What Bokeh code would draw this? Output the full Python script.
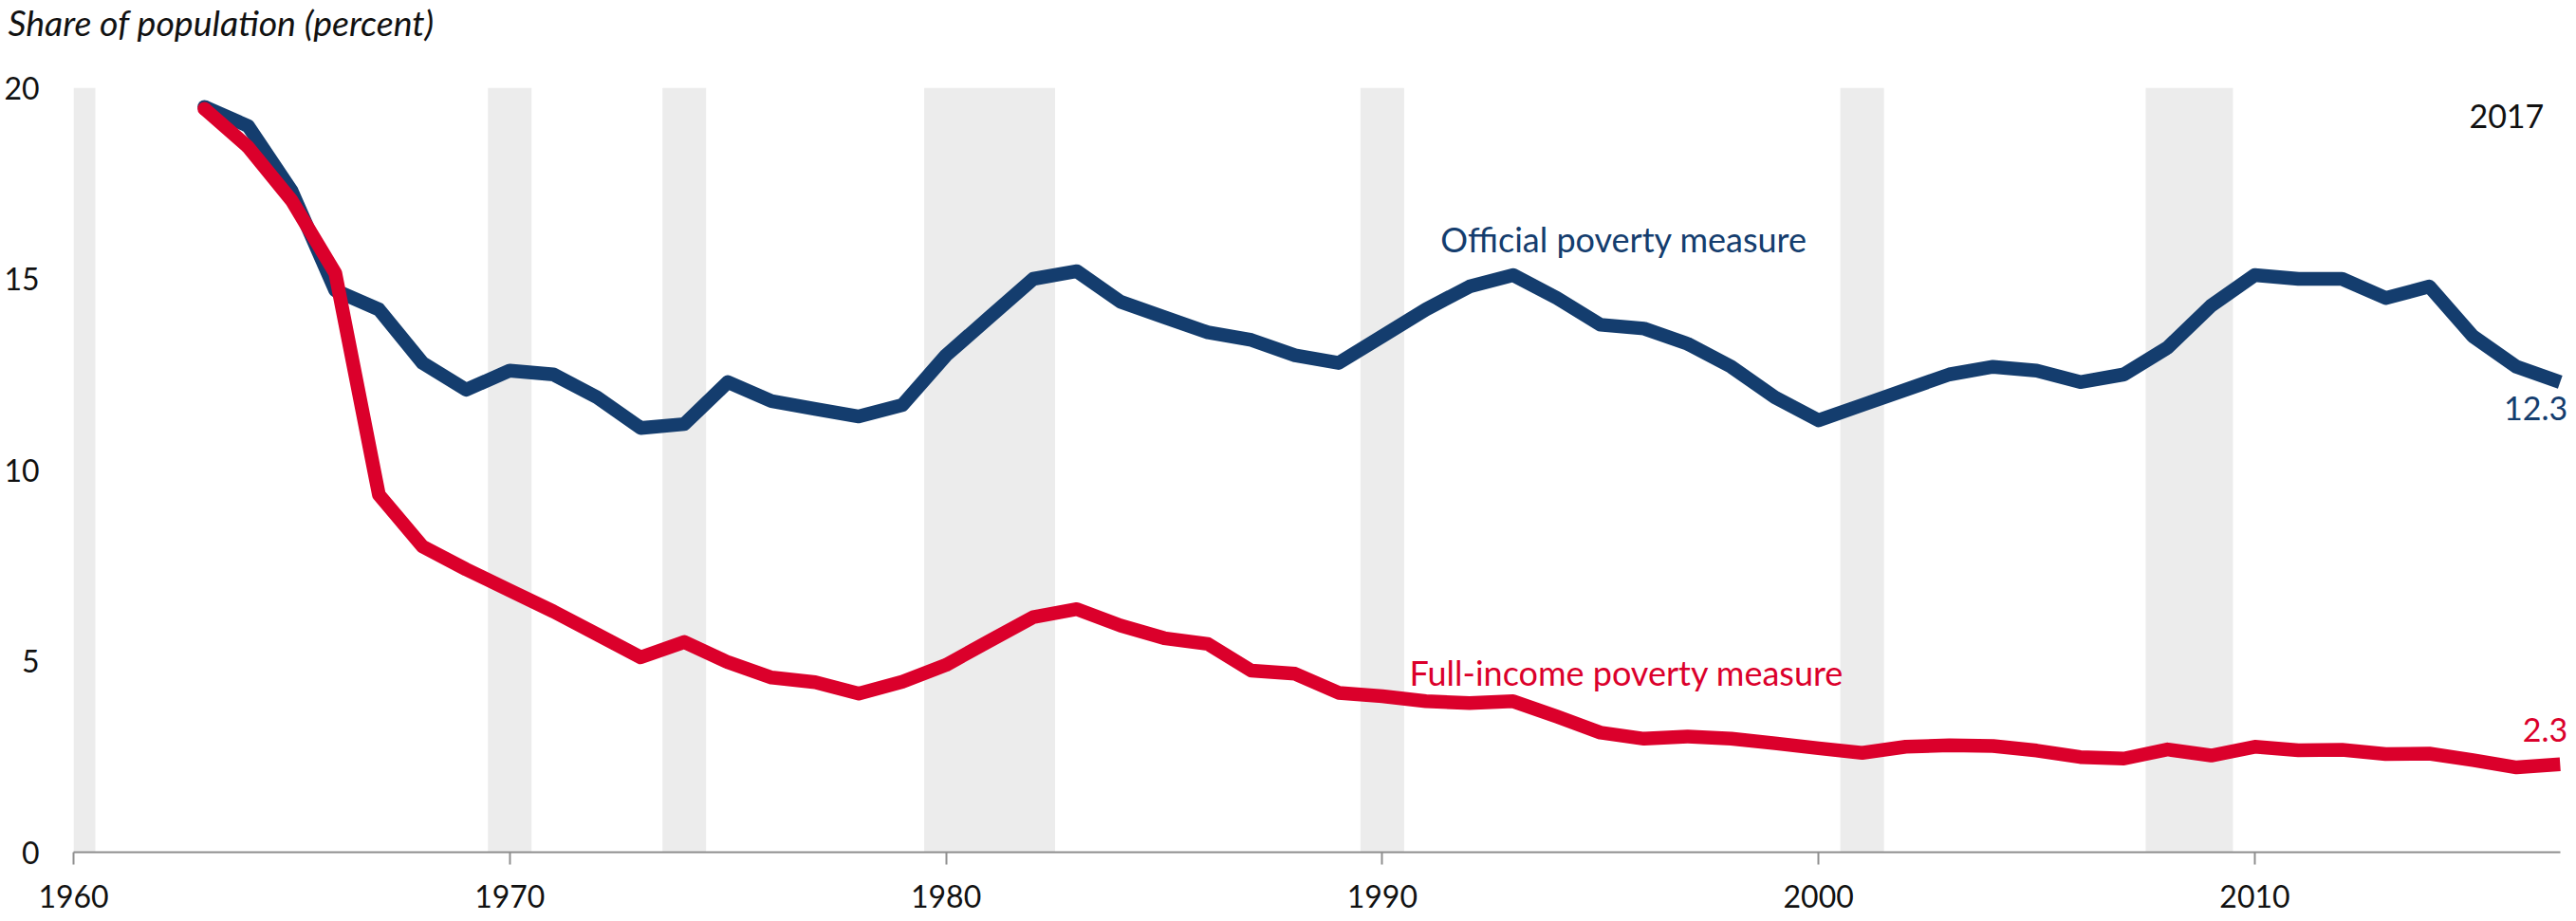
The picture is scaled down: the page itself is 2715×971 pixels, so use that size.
from bokeh.plotting import figure
from bokeh.models import Range1d, Label, FixedTicker
from bokeh.embed import file_html
from bokeh.resources import INLINE

# ---------------- data ----------------
years = list(range(1963, 2018))
official = [19.5, 19.0, 17.3, 14.7, 14.2, 12.8, 12.1, 12.6, 12.5, 11.9,
            11.1, 11.2, 12.3, 11.8, 11.6, 11.4, 11.7, 13.0, 14.0, 15.0,
            15.2, 14.4, 14.0, 13.6, 13.4, 13.0, 12.8, 13.5, 14.2, 14.8,
            15.1, 14.5, 13.8, 13.7, 13.3, 12.7, 11.9, 11.3, 11.7, 12.1,
            12.5, 12.7, 12.6, 12.3, 12.5, 13.2, 14.3, 15.1, 15.0, 15.0,
            14.5, 14.8, 13.5, 12.7, 12.3]
full_income = [19.45, 18.45, 17.05, 15.15, 9.35, 8.0, 7.4, 6.85, 6.3, 5.7,
               5.1, 5.5, 4.97, 4.57, 4.45, 4.15, 4.46, 4.9, 5.53, 6.15,
               6.36, 5.93, 5.6, 5.45, 4.75, 4.67, 4.17, 4.08, 3.95, 3.9,
               3.95, 3.55, 3.13, 2.97, 3.03, 2.97, 2.85, 2.72, 2.6, 2.76,
               2.8, 2.78, 2.66, 2.49, 2.45, 2.69, 2.53, 2.76, 2.67, 2.68,
               2.57, 2.58, 2.41, 2.22, 2.3]
recession_start = [1960, 1969.5, 1973.5, 1979.5, 1989.5, 2000.5, 2007.5]
recession_end = [1960.5, 1970.5, 1974.5, 1982.5, 1990.5, 2001.5, 2009.5]
x_ticks = [1960, 1970, 1980, 1990, 2000, 2010]
y_ticks = [0, 5, 10, 15, 20]
x_start, x_end = 1960, 2017

title_text = "Share of population (percent)"
official_name = "Official poverty measure"
full_name = "Full-income poverty measure"
end_year_text = "2017"

BLUE = "#143D6E"
RED = "#DB002B"
FONT = "Lato"
LW = 14.5
right_pad = 0.2   # room to the right of the last year for the end labels

p = figure(width=2707, height=963, output_backend="svg", toolbar_location=None,
           x_range=Range1d(x_start, x_end + right_pad),
           y_range=Range1d(y_ticks[0], y_ticks[-1]),
           min_border_left=77, min_border_right=0, min_border_top=92,
           min_border_bottom=65)
p.outline_line_color = None
p.grid.visible = False
p.background_fill_color = "white"
p.border_fill_color = "white"

# title (a blank second line keeps the text near the top of the canvas)
p.title.text = title_text + "\n "
p.title.text_font = FONT
p.title.text_font_size = "37.5px"
p.title.text_font_style = "italic"
p.title.text_color = "#111111"
p.title.align = "left"
p.title.vertical_align = "top"
p.title.offset = -69
p.title.standoff = 0

# recession bands
p.quad(left=recession_start, right=recession_end, bottom=y_ticks[0], top=y_ticks[-1],
       fill_color="#ececec", line_color=None)

# series
p.line(years, official, line_color=BLUE, line_width=LW,
       line_cap="butt", line_join="round")
p.scatter([years[0]], [official[0]], size=LW, color=BLUE, line_color=None)
p.line(years, full_income, line_color=RED, line_width=LW,
       line_cap="butt", line_join="round")
p.scatter([years[0]], [full_income[0]], size=LW, color=RED, line_color=None)

# axes
xa = p.xaxis[0]
xa.ticker = FixedTicker(ticks=x_ticks)
xa.bounds = (x_start, x_end)
xa.axis_line_color = "#8f8f8f"
xa.axis_line_width = 2
xa.major_tick_line_color = "#8f8f8f"
xa.major_tick_line_width = 2
xa.major_tick_out = 13
xa.major_tick_in = 0
xa.minor_tick_line_color = None
xa.major_label_text_font = FONT
xa.major_label_text_font_size = "32px"
xa.major_label_text_color = "#111111"
xa.major_label_standoff = 21

ya = p.yaxis[0]
ya.ticker = FixedTicker(ticks=y_ticks)
ya.axis_line_color = None
ya.major_tick_line_color = None
ya.minor_tick_line_color = None
ya.major_tick_out = 0
ya.major_tick_in = 0
ya.major_label_text_font = FONT
ya.major_label_text_font_size = "32px"
ya.major_label_text_color = "#111111"
ya.major_label_standoff = 36

# text annotations
p.add_layout(Label(x=x_end, y=y_ticks[-1], x_offset=-17, y_offset=-30,
                   text=end_year_text, text_font=FONT, text_font_size="34px",
                   text_color="#111111", text_align="right", text_baseline="alphabetic"))
p.add_layout(Label(x=1995.54, y=16.03, text=official_name, text_font=FONT,
                   text_font_size="36px", text_color=BLUE, text_align="center",
                   text_baseline="alphabetic"))
p.add_layout(Label(x=1995.6, y=4.71, text=full_name, text_font=FONT,
                   text_font_size="36px", text_color=RED, text_align="center",
                   text_baseline="alphabetic"))
p.add_layout(Label(x=years[-1], y=official[-1], x_offset=8, y_offset=-28,
                   text=f"{official[-1]:.1f}", text_font=FONT, text_font_size="34px",
                   text_color=BLUE, text_align="right", text_baseline="alphabetic"))
p.add_layout(Label(x=years[-1], y=full_income[-1], x_offset=8, y_offset=36,
                   text=f"{full_income[-1]:.1f}", text_font=FONT, text_font_size="34px",
                   text_color=RED, text_align="right", text_baseline="alphabetic"))

open("out.html", "w").write(file_html(p, INLINE))
